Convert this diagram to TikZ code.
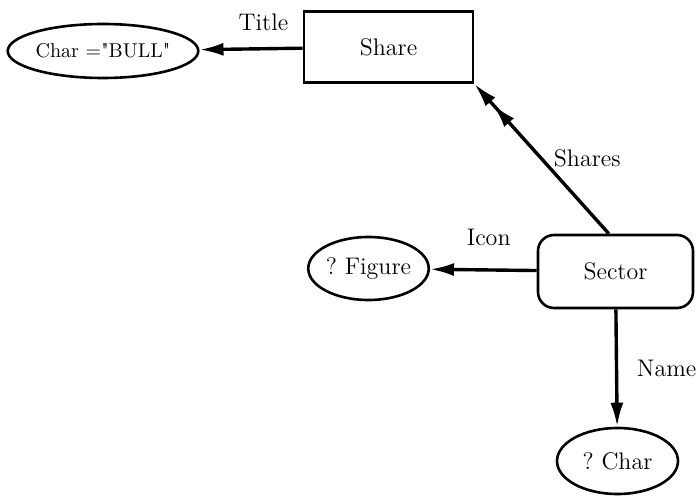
\documentclass[tikz,border=0pt]{standalone}
\usepackage{fontspec}
\usepackage{tikz}
\usetikzlibrary{positioning, arrows.meta, shapes}
\frenchspacing

\begin{document}
\begin{tikzpicture}[x=0.5pt, y=-0.5pt, >={Latex[length=12pt, width=6.5pt]},
			line width=1.7pt, font=\large,
			entity/.style={draw, line width=1.3pt, rectangle, minimum width=84.5pt, minimum height=35.5pt},
			group/.style={draw, line width=1.3pt, rounded corners=8pt, minimum width=77.5pt, minimum height=36.5pt},
			value/.style={draw, line width=1.3pt, ellipse, inner sep=0pt} ]
			\useasboundingbox (0,0) rectangle (700,497);
			\node[entity]                                        (share)  at (388.5,47)  {Share};
			\node[value, minimum width=92pt, minimum height=27pt,
			      font=\normalsize]                              (bull)   at (103,51)    {Char =\textquotedbl BULL\textquotedbl};
			\node[group]                                         (sector) at (615.5,271.5) {Sector};
			\node[value, minimum width=56.5pt, minimum height=31.5pt] (figure) at (368.5,268.5) {? Figure};
			\node[value, minimum width=60.5pt, minimum height=33pt]   (char)   at (617.5,461)   {? Char};
			
			%Relations:
			\path[->]
			(share)      edge                node[above=5pt, pos=0.38] {Title}  (bull)
			(sector)     edge                node[above=8pt, pos=0.45] {Icon}   (figure)
			(sector.100) edge [-{Latex[length=12pt, width=6.5pt, sep=2pt] Latex[length=12pt, width=6.5pt]}]
			                                 node[right=2pt, pos=0.5]  {Shares} (share.south east)
			(sector)     edge                node[right=6pt, pos=0.5]  {Name}   (char);
		\end{tikzpicture}
\end{document}
